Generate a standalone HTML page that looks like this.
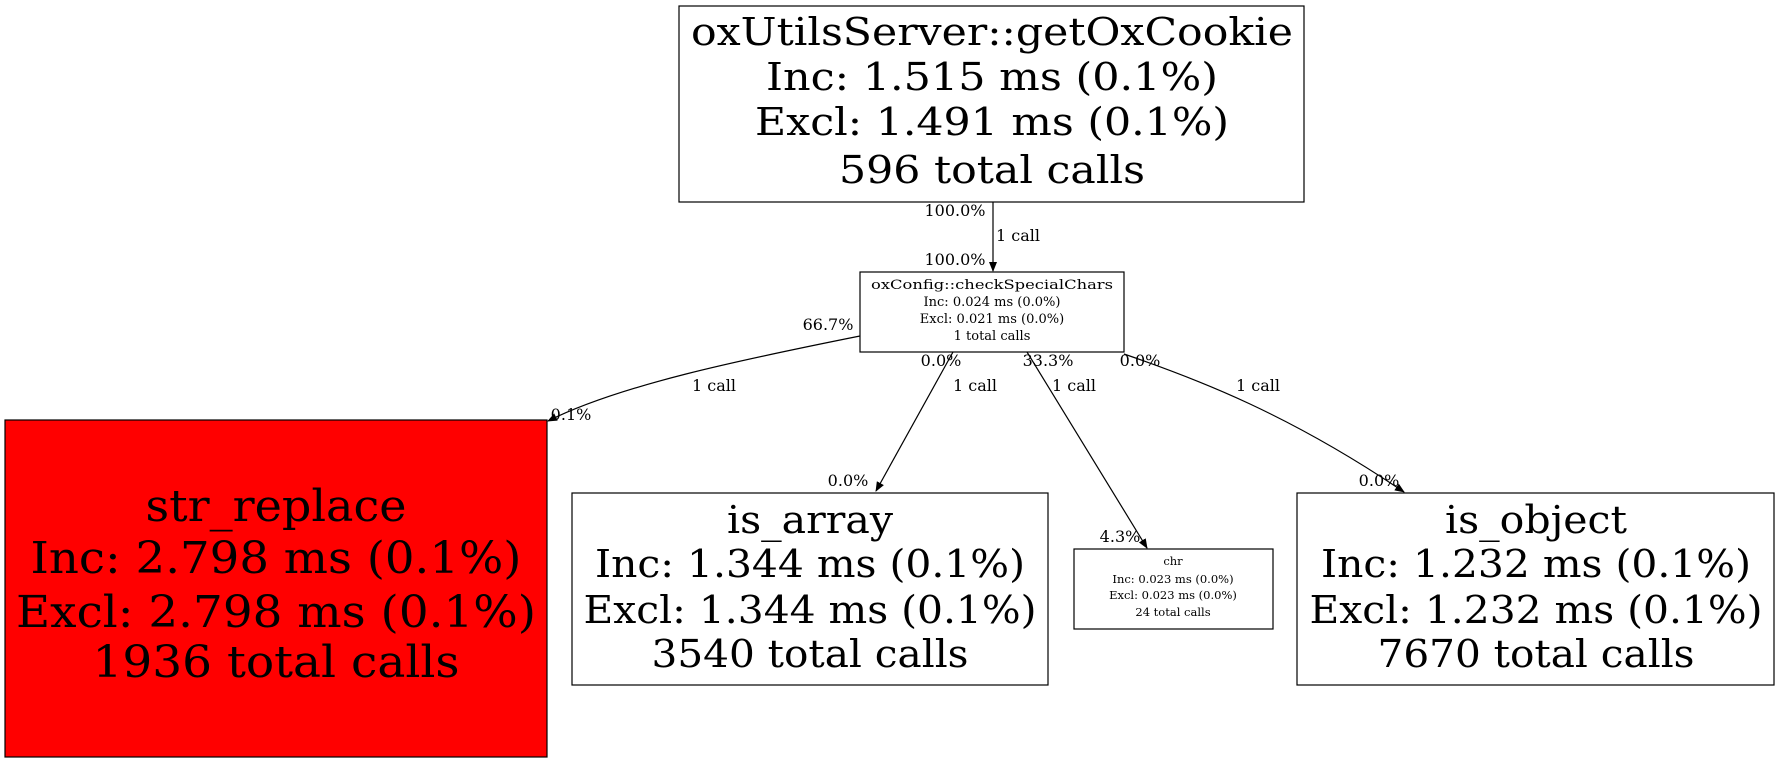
<!DOCTYPE html>
<html><head><meta charset="utf-8"><style>
html,body{margin:0;padding:0;background:#fff;width:1780px;height:763px;overflow:hidden}
text{font-family:"DejaVu Serif","Liberation Serif",serif;fill:#000}
</style></head><body>
<svg width="1780" height="763" viewBox="0 0 1780 763" xmlns="http://www.w3.org/2000/svg">
<defs><marker id="a" markerWidth="10" markerHeight="8" refX="9" refY="4" orient="auto" markerUnits="userSpaceOnUse"><path d="M0,0 L10,4 L0,8 z" fill="#000"/></marker></defs>
<g fill="none" stroke="#000" stroke-width="1.2">
<rect x="679" y="6" width="625" height="196" fill="#fff"/>
<rect x="860" y="272" width="264" height="80" fill="#fff"/>
<rect x="5" y="420" width="542" height="337" fill="#ff0000"/>
<rect x="572" y="493" width="476" height="192" fill="#fff"/>
<rect x="1074" y="549" width="199" height="80" fill="#fff"/>
<rect x="1297" y="493" width="477" height="192" fill="#fff"/>
<path d="M993,202 L993,271" marker-end="url(#a)"/>
<path d="M860,336 C740,360 620,385 548,421" marker-end="url(#a)"/>
<path d="M953,352 L876,491" marker-end="url(#a)"/>
<path d="M1027,352 L1147,548" marker-end="url(#a)"/>
<path d="M1124,354 C1200,380 1290,415 1404,492" marker-end="url(#a)"/>
</g>
<g text-anchor="middle" font-size="38" lengthAdjust="spacingAndGlyphs">
<text x="992" y="45" textLength="602" lengthAdjust="spacingAndGlyphs">oxUtilsServer::getOxCookie</text>
<text x="992" y="90" textLength="452" lengthAdjust="spacingAndGlyphs">Inc: 1.515 ms (0.1%)</text>
<text x="992" y="135" textLength="474" lengthAdjust="spacingAndGlyphs">Excl: 1.491 ms (0.1%)</text>
<text x="992" y="183" textLength="306" lengthAdjust="spacingAndGlyphs">596 total calls</text>
</g>
<g text-anchor="middle" font-size="44">
<text x="276" y="521" textLength="261" lengthAdjust="spacingAndGlyphs">str_replace</text>
<text x="276" y="573" textLength="491" lengthAdjust="spacingAndGlyphs">Inc: 2.798 ms (0.1%)</text>
<text x="276" y="627" textLength="520" lengthAdjust="spacingAndGlyphs">Excl: 2.798 ms (0.1%)</text>
<text x="276" y="677" textLength="367" lengthAdjust="spacingAndGlyphs">1936 total calls</text>
</g>
<g text-anchor="middle" font-size="38">
<text x="810" y="533" textLength="166" lengthAdjust="spacingAndGlyphs">is_array</text>
<text x="810" y="577" textLength="430" lengthAdjust="spacingAndGlyphs">Inc: 1.344 ms (0.1%)</text>
<text x="810" y="623" textLength="453" lengthAdjust="spacingAndGlyphs">Excl: 1.344 ms (0.1%)</text>
<text x="810" y="667" textLength="317" lengthAdjust="spacingAndGlyphs">3540 total calls</text>
<text x="1536" y="533" textLength="182" lengthAdjust="spacingAndGlyphs">is_object</text>
<text x="1536" y="577" textLength="430" lengthAdjust="spacingAndGlyphs">Inc: 1.232 ms (0.1%)</text>
<text x="1536" y="623" textLength="453" lengthAdjust="spacingAndGlyphs">Excl: 1.232 ms (0.1%)</text>
<text x="1536" y="667" textLength="317" lengthAdjust="spacingAndGlyphs">7670 total calls</text>
</g>
<g text-anchor="middle" font-size="13">
<text x="992" y="289" textLength="242" lengthAdjust="spacingAndGlyphs">oxConfig::checkSpecialChars</text>
<text x="992" y="306">Inc: 0.024 ms (0.0%)</text>
<text x="992" y="323">Excl: 0.021 ms (0.0%)</text>
<text x="992" y="340">1 total calls</text>
</g>
<g text-anchor="middle" font-size="11.5">
<text x="1173" y="565">chr</text>
<text x="1173" y="583">Inc: 0.023 ms (0.0%)</text>
<text x="1173" y="599">Excl: 0.023 ms (0.0%)</text>
<text x="1173" y="616">24 total calls</text>
</g>
<g text-anchor="middle" font-size="16">
<text x="955" y="216">100.0%</text>
<text x="1018" y="241">1 call</text>
<text x="955" y="265">100.0%</text>
<text x="828" y="330">66.7%</text>
<text x="714" y="391">1 call</text>
<text x="571" y="420">0.1%</text>
<text x="941" y="366">0.0%</text>
<text x="975" y="391">1 call</text>
<text x="848" y="486">0.0%</text>
<text x="1048" y="366">33.3%</text>
<text x="1074" y="391">1 call</text>
<text x="1120" y="542">4.3%</text>
<text x="1140" y="366">0.0%</text>
<text x="1258" y="391">1 call</text>
<text x="1379" y="486">0.0%</text>
</g>
</svg>
</body></html>
